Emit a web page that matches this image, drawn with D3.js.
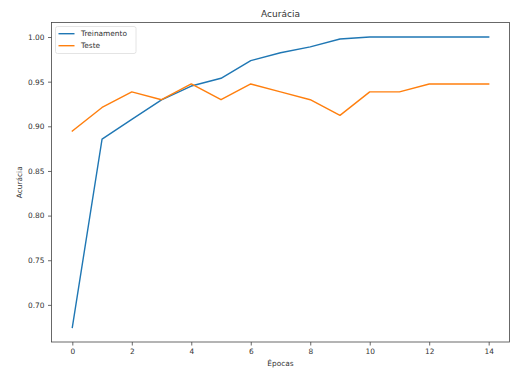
<!DOCTYPE html>
<html>
<head>
<meta charset="utf-8">
<script src="https://cdn.jsdelivr.net/npm/d3@7"></script>
<style>
  html, body { margin: 0; padding: 0; background: #fff; }
  svg { display: block; font-family: "DejaVu Sans", sans-serif; }
</style>
</head>
<body>
<svg id="chart" width="510" height="372"></svg>
<script>
// Accuracy per epoch for the training and test sets
const epochs = [0, 1, 2, 3, 4, 5, 6, 7, 8, 9, 10, 11, 12, 13, 14];
const treinamento = [0.6747, 0.8857, 0.9077, 0.9297, 0.9451, 0.9538, 0.9736, 0.9824, 0.9890, 0.9978, 1.0, 1.0, 1.0, 1.0, 1.0];
const teste = [0.8947, 0.9211, 0.9386, 0.9298, 0.9474, 0.9298, 0.9474, 0.9386, 0.9298, 0.9123, 0.9386, 0.9386, 0.9474, 0.9474, 0.9474];
const xTicks = [0, 2, 4, 6, 8, 10, 12, 14];
const yTicks = [0.70, 0.75, 0.80, 0.85, 0.90, 0.95, 1.00];
const seriesNames = ["Treinamento", "Teste"];
const seriesColors = ["#1f77b4", "#ff7f0e"];

const svg = d3.select("#chart");
const plot = { left: 51.5, right: 509.5, top: 22.5, bottom: 342 };

// Axis limits with a 5% padding around the data range
const xPad = (d3.max(epochs) - d3.min(epochs)) * 0.05;
const allY = treinamento.concat(teste);
const yMin = d3.min(allY), yMax = d3.max(allY);
const yPad = (yMax - yMin) * 0.05;

const x = d3.scaleLinear()
  .domain([d3.min(epochs) - xPad, d3.max(epochs) + xPad])
  .range([plot.left, plot.right]);
const y = d3.scaleLinear()
  .domain([yMin - yPad, yMax + yPad])
  .range([plot.bottom, plot.top]);

const textColor = "#333";
const tickFont = 7.4;

// Axes
const xAxis = svg.append("g")
  .attr("transform", `translate(0,${plot.bottom})`)
  .call(d3.axisBottom(x).tickValues(xTicks).tickFormat(d3.format("d")).tickSize(3.5).tickPadding(3));
const yAxis = svg.append("g")
  .attr("transform", `translate(${plot.left},0)`)
  .call(d3.axisLeft(y).tickValues(yTicks).tickFormat(d3.format(".2f")).tickSize(3.5).tickPadding(3.5));

[xAxis, yAxis].forEach(g => {
  g.select(".domain").remove();
  g.selectAll(".tick line").attr("stroke", "#444").attr("stroke-width", 0.8);
  g.selectAll(".tick text").attr("fill", textColor).attr("font-size", tickFont)
    .attr("font-family", "DejaVu Sans, sans-serif");
});

// Frame around the plotting area
svg.append("rect")
  .attr("x", plot.left).attr("y", plot.top)
  .attr("width", plot.right - plot.left).attr("height", plot.bottom - plot.top)
  .attr("fill", "none").attr("stroke", "#444").attr("stroke-width", 0.8);

// Lines
const line = d3.line().x((d, i) => x(epochs[i])).y(d => y(d));
[treinamento, teste].forEach((s, k) => {
  svg.append("path")
    .datum(s)
    .attr("d", line)
    .attr("fill", "none")
    .attr("stroke", seriesColors[k])
    .attr("stroke-width", 1.4)
    .attr("stroke-linejoin", "round")
    .attr("stroke-linecap", "square");
});

// Title and axis labels
svg.append("text")
  .attr("x", (plot.left + plot.right) / 2).attr("y", 17)
  .attr("text-anchor", "middle").attr("font-size", 9).attr("fill", textColor)
  .text("Acurácia");
svg.append("text")
  .attr("x", (plot.left + plot.right) / 2).attr("y", 366)
  .attr("text-anchor", "middle").attr("font-size", tickFont).attr("fill", textColor)
  .text("Épocas");
svg.append("text")
  .attr("transform", `translate(22,${(plot.top + plot.bottom) / 2}) rotate(-90)`)
  .attr("text-anchor", "middle").attr("font-size", tickFont).attr("fill", textColor)
  .text("Acurácia");

// Legend
const legend = svg.append("g").attr("transform", "translate(55.5,26.5)");
legend.append("rect")
  .attr("width", 80.5).attr("height", 27).attr("rx", 2)
  .attr("fill", "#fff").attr("fill-opacity", 0.8)
  .attr("stroke", "#ddd").attr("stroke-width", 0.8);
seriesNames.forEach((name, i) => {
  const cy = 7.2 + i * 12;
  legend.append("line")
    .attr("x1", 3).attr("x2", 19).attr("y1", cy).attr("y2", cy)
    .attr("stroke", seriesColors[i]).attr("stroke-width", 1.4);
  legend.append("text")
    .attr("x", 25.5).attr("y", cy).attr("dy", "0.35em")
    .attr("font-size", tickFont).attr("fill", textColor)
    .text(name);
});
</script>
</body>
</html>
